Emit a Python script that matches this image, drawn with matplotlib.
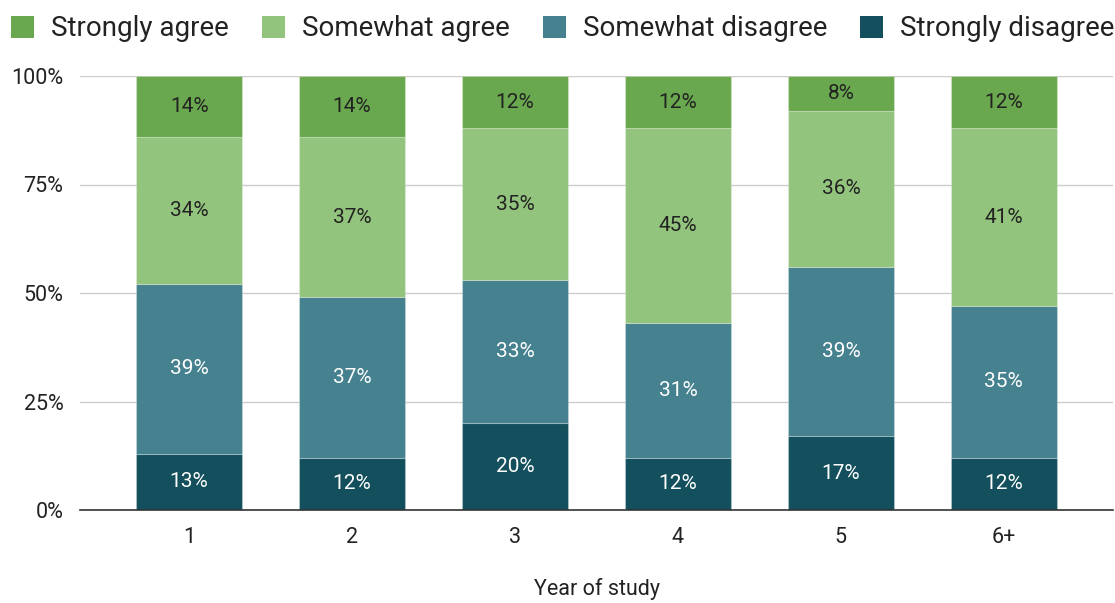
import numpy as np
import matplotlib.pyplot as plt
from matplotlib.patches import Patch

plt.rcParams['font.family'] = ['Roboto', 'DejaVu Sans']

# Data (percent of respondents per year of study)
years = ['1', '2', '3', '4', '5', '6+']
strongly_disagree = [13, 12, 20, 12, 17, 12]
somewhat_disagree = [39, 37, 33, 31, 39, 35]
somewhat_agree = [34, 37, 35, 45, 36, 41]
strongly_agree = [14, 14, 12, 12, 8, 12]

series = [
    ('Strongly disagree', strongly_disagree, '#134f5c', 'white'),
    ('Somewhat disagree', somewhat_disagree, '#45818e', 'white'),
    ('Somewhat agree', somewhat_agree, '#93c47d', '#222222'),
    ('Strongly agree', strongly_agree, '#6aa84f', '#222222'),
]

fig = plt.figure(figsize=(11.15, 6.03), dpi=100)
ax = fig.add_axes([80 / 1115, 1 - 510 / 603, 1033 / 1115, 434 / 603])

x = np.arange(len(years))
bottom = np.zeros(len(years))
for name, vals, color, tcolor in series:
    vals = np.array(vals, dtype=float)
    ax.bar(x, vals, 0.65, bottom=bottom, color=color, label=name,
           edgecolor=(1, 1, 1, 0.25), linewidth=0.8, zorder=3)
    for xi, b, v in zip(x, bottom, vals):
        ax.text(xi, b + v / 2, f'{int(v)}%', ha='center', va='center',
                color=tcolor, fontsize=15, zorder=4)
    bottom += vals

ax.set_xlim(-0.67, len(years) - 0.33)
ax.set_ylim(0, 100)
ax.set_yticks([0, 25, 50, 75, 100])
ax.set_yticklabels(['0%', '25%', '50%', '75%', '100%'])
ax.set_xticks(x)
ax.set_xticklabels(years)
ax.tick_params(axis='both', length=0, labelsize=15.5, colors='#222222')
ax.tick_params(axis='y', pad=12)
ax.tick_params(axis='x', pad=12)
ax.grid(axis='y', color='#cccccc', linewidth=1, zorder=0)
for s in ['top', 'right', 'left']:
    ax.spines[s].set_visible(False)
ax.spines['bottom'].set_color('#333333')
ax.spines['bottom'].set_linewidth(1.2)
ax.spines['bottom'].set_zorder(5)
ax.set_xlabel('Year of study', fontsize=15.5, color='#222222', labelpad=22)

handles = [Patch(facecolor=c, label=n) for n, _, c, _ in reversed(series)]
fig.legend(handles=handles, loc='upper left', bbox_to_anchor=(0.0, 0.993),
           ncol=4, frameon=False, fontsize=20, handlelength=0.83,
           handleheight=0.83, handletextpad=0.61, columnspacing=1.19,
           borderaxespad=0.1, borderpad=0.3, labelcolor='#222222')

fig.savefig('out.png', dpi=100, facecolor='white')
